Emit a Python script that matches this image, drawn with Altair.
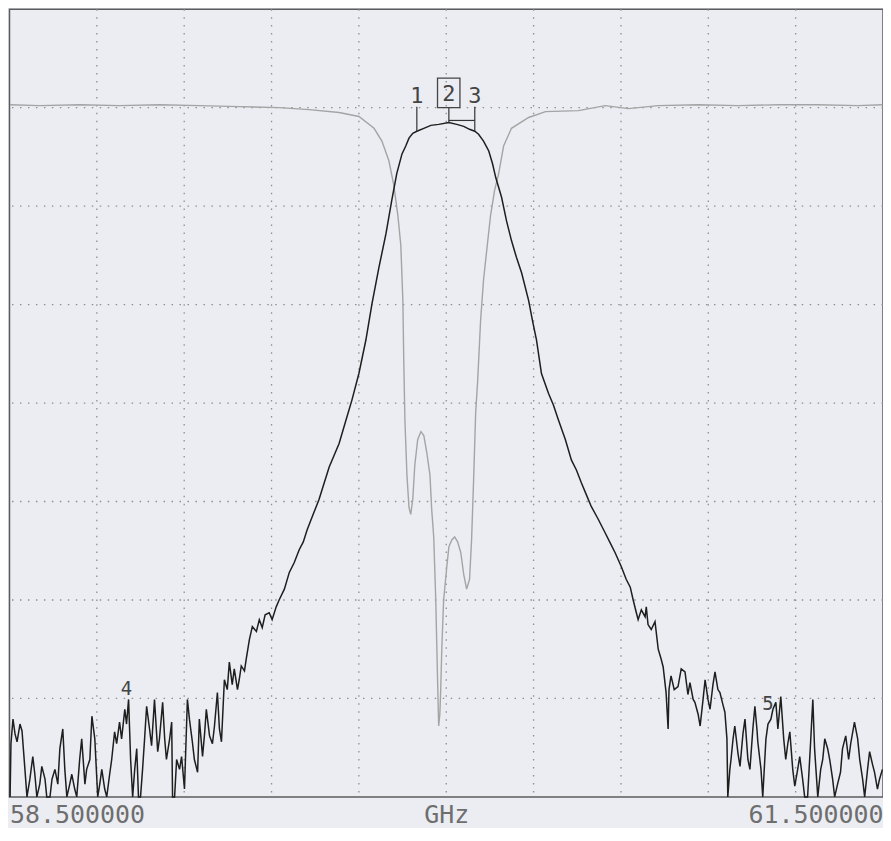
import altair as alt
import pandas as pd

# ---------------- data (GHz, dB) ----------------
# S21 transmission trace (black), left stop-band noise
s21_freq_a = [58.502,58.505,58.512,58.519,58.526,58.536,58.543,58.553,58.560,58.570,
              58.580,58.587,58.594,58.604,58.611,58.622,58.628,58.639,58.646,58.656,
              58.666,58.673,58.683,58.690,58.697,58.707,58.714,58.724,58.731,58.741,
              58.748,58.759,58.765,58.776,58.783,58.793,58.803,58.810,58.817,58.827,
              58.834,58.844,58.851,58.861,58.868,58.878,58.885,58.896,58.902,58.909,
              58.916,58.923,58.930,58.937,58.943,58.950,58.957,58.964,58.971,58.981,
              58.988,58.998,59.009,59.015,59.026,59.033,59.039,59.050,59.057,59.060,
              59.067,59.074,59.084,59.091,59.101,59.111,59.118,59.128,59.135,59.146,
              59.152,59.163,59.170,59.176,59.187,59.197,59.204,59.214,59.221,59.228,
              59.238,59.248,59.255,59.265,59.272,59.283,59.289,59.296,59.307,59.313]
s21_db_a = [-80,-74.6,-72.1,-73.6,-74.4,-72.6,-73.3,-77.2,-80,-78.2,
            -75.9,-77.7,-80,-78.7,-76.9,-78.2,-80,-80,-78.2,-77.2,
            -78.7,-75.1,-73.1,-77.2,-80,-78.7,-77.7,-79.2,-80,-76.2,
            -74.1,-78.7,-77.2,-76.2,-71.8,-74.1,-80,-78.7,-77.2,-79.2,
            -80,-77.7,-76.2,-73.4,-74.6,-72.4,-74.1,-71.1,-72.6,-70.1,
            -76.2,-80,-77.2,-75.1,-80,-80,-77.2,-74.1,-70.8,-73.1,
            -74.8,-70.1,-75.4,-74.1,-70.4,-74.1,-76.2,-74.1,-72.4,-80,
            -80,-76.2,-77.2,-75.9,-79.2,-70.1,-72.1,-74.4,-76.2,-77.5,
            -72.1,-75.9,-73.6,-71.1,-73.8,-74.6,-72.8,-69.4,-73.1,-74.4,
            -68.1,-69.1,-66.3,-68.6,-67.0,-69.1,-68.1,-66.7,-67.2,-66.0]

# S21 skirts and pass band
s21_freq_b = [59.324,59.334,59.348,59.358,59.368,59.378,59.392,59.402,59.416,59.426,
              59.444,59.461,59.478,59.495,59.509,59.522,59.543,59.563,59.581,59.598,
              59.615,59.632,59.656,59.676,59.700,59.724,59.745,59.769,59.793,59.813,
              59.830,59.848,59.861,59.872,59.885,59.899,59.923,59.947,59.974,60.009,
              60.036,60.060,60.080,60.098,60.111,60.128,60.139,60.146,60.159,60.170,
              60.190,60.207,60.224,60.241,60.259,60.283,60.296,60.310,60.327,60.351,
              60.368,60.385,60.409,60.430,60.447,60.464,60.481,60.498,60.522,60.546,
              60.563,60.580,60.601,60.618,60.632,60.642,60.652,60.659,60.670,60.683,
              60.687,60.693,60.704,60.717,60.728,60.738,60.745]
s21_db_b = [-64.0,-62.7,-63.2,-62.0,-62.8,-61.5,-61.3,-62.0,-60.7,-60.0,
            -58.9,-57.2,-56.2,-54.9,-54.1,-52.9,-51.3,-49.8,-48.1,-46.5,
            -45.3,-44.1,-41.7,-39.7,-37.0,-33.6,-29.9,-26.2,-22.8,-19.4,
            -16.7,-14.7,-13.9,-13.1,-12.6,-12.4,-12.1,-11.8,-11.7,-11.5,
            -11.7,-11.9,-12.2,-12.4,-12.7,-13.4,-14.0,-14.4,-15.7,-17.1,
            -19.1,-21.5,-23.5,-25.2,-26.8,-29.6,-31.6,-33.6,-37.0,-39.0,
            -40.2,-41.7,-43.7,-45.8,-46.8,-48.1,-49.3,-50.5,-51.8,-53.2,
            -54.2,-55.2,-56.6,-57.9,-58.7,-60.0,-61.2,-62.0,-61.0,-61.7,
            -60.7,-62.5,-63.0,-62.2,-65.0,-66.0,-66.8]

# S21 right stop-band noise
s21_freq_c = [60.755,60.762,60.765,60.772,60.783,60.796,60.807,60.820,60.830,60.837,
              60.848,60.854,60.865,60.872,60.882,60.889,60.899,60.906,60.916,60.923,
              60.933,60.940,60.950,60.957,60.964,60.967,60.974,60.978,60.985,60.991,
              61.002,61.009,61.019,61.026,61.036,61.043,61.053,61.060,61.067,61.070,
              61.081,61.087,61.094,61.098,61.105,61.115,61.122,61.132,61.139,61.149,
              61.159,61.166,61.173,61.180,61.190,61.197,61.207,61.214,61.224,61.231,
              61.241,61.252,61.259,61.265,61.276,61.286,61.293,61.300,61.310,61.317,
              61.327,61.334,61.344,61.354,61.361,61.372,61.382,61.389,61.402,61.413,
              61.420,61.430,61.437,61.447,61.454,61.464,61.471,61.481,61.488,61.498]
s21_db_c = [-69.4,-73.1,-69.1,-67.7,-69.1,-68.8,-67.0,-67.3,-69.6,-68.4,
            -70.1,-70.4,-71.6,-72.8,-70.1,-68.1,-70.1,-71.1,-68.6,-67.3,
            -69.1,-69.4,-70.6,-71.4,-74.1,-80,-77.2,-76.2,-74.1,-72.8,
            -75.6,-76.9,-73.6,-72.1,-76.2,-77.2,-73.1,-70.8,-73.1,-74.4,
            -77.2,-80,-76.2,-74.1,-72.6,-72.1,-71.1,-70.4,-73.1,-69.8,
            -74.1,-76.2,-74.6,-73.4,-77.2,-78.9,-77.2,-75.9,-78.2,-80,
            -80,-74.1,-70.1,-75.1,-80,-77.2,-76.2,-74.1,-75.1,-76.2,
            -78.2,-80,-78.7,-77.5,-75.1,-73.8,-76.2,-74.6,-72.4,-74.1,
            -76.2,-78.2,-80,-77.2,-75.4,-76.7,-77.5,-79.2,-78.2,-77.2]

# S11 reflection trace (grey)
s11_freq = [58.502,58.604,58.741,58.878,59.015,59.152,59.289,59.426,59.529,59.632,
            59.700,59.752,59.779,59.803,59.820,59.834,59.844,59.851,59.854,59.858,
            59.865,59.872,59.878,59.885,59.892,59.902,59.913,59.923,59.933,59.944,
            59.950,59.957,59.964,59.967,59.971,59.974,59.978,59.981,59.985,59.991,
            60.002,60.009,60.019,60.029,60.039,60.050,60.060,60.070,60.080,60.087,
            60.094,60.101,60.108,60.118,60.128,60.139,60.152,60.166,60.180,60.197,
            60.224,60.283,60.341,60.454,60.546,60.625,60.728,60.865,61.002,61.139,
            61.276,61.413,61.498]
s11_db = [-9.7,-9.8,-9.7,-9.8,-9.7,-9.8,-9.9,-10.0,-10.2,-10.5,
          -10.9,-12.1,-13.4,-15.4,-17.9,-21.0,-24.0,-29.6,-35.6,-41.7,
          -47.3,-50.6,-51.3,-49.8,-46.3,-43.7,-42.9,-43.3,-45.0,-47.3,
          -50.8,-53.6,-60.0,-64.0,-69.1,-72.8,-71.6,-69.1,-64.7,-60.0,
          -56.6,-54.6,-53.9,-53.6,-54.1,-55.2,-57.4,-58.9,-57.9,-53.9,
          -47.8,-41.0,-37.7,-31.6,-27.5,-24.5,-21.0,-18.4,-16.7,-13.9,
          -12.1,-11.0,-10.4,-10.3,-9.8,-10.1,-9.8,-9.7,-9.8,-9.7,
          -9.7,-9.8,-9.7]

# grid and axis
grid_freqs = [58.8, 59.1, 59.4, 59.7, 60.0, 60.3, 60.6, 60.9, 61.2]
grid_dbs = [-10, -20, -30, -40, -50, -60, -70]
tick_freqs = [58.5, 60.0, 61.5]

# markers
marker_labels = ["1", "2", "3", "4", "5"]
marker_freqs = [59.899, 60.009, 60.098, 58.902, 61.105]
marker_trace_db = [-12.4, -11.5, -12.4, -70.1, -72.6]
marker_top_db = [-9.9, -10.0, -9.9, None, None]
marker_text_db = [-8.8, -8.6, -8.8, -69.0, -70.6]

# ---------------- chart ----------------
X_DOM = [58.5, 61.5]
Y_DOM = [-80, 0]
xs = alt.Scale(domain=X_DOM, nice=False, zero=False)
ys = alt.Scale(domain=Y_DOM, nice=False, zero=False)

xaxis = alt.Axis(values=tick_freqs, title=None, grid=False, ticks=False, domain=False,
                 labelFlush=True, labelOverlap=False,
                 labelExpr="datum.value == 60 ? 'GHz' : format(datum.value, '.6f')",
                 labelFont="DejaVu Sans Mono", labelFontSize=25, labelColor="#6e6e6e",
                 labelPadding=6)

def X(field):
    return alt.X(field, type="quantitative", scale=xs, axis=xaxis)

def Y(field):
    return alt.Y(field, type="quantitative", scale=ys, axis=None)

s21 = pd.DataFrame({"f": s21_freq_a + s21_freq_b + s21_freq_c,
                    "db": s21_db_a + s21_db_b + s21_db_c})
s21["i"] = range(len(s21))
s11 = pd.DataFrame({"f": s11_freq, "db": s11_db})
s11["i"] = range(len(s11))

grid_style = dict(color="#8f8f8f", strokeWidth=1.3, strokeDash=[1.5, 6.5])
vgrid = alt.Chart(pd.DataFrame({"f": grid_freqs})).mark_rule(**grid_style).encode(x=X("f"))
hgrid = alt.Chart(pd.DataFrame({"db": grid_dbs})).mark_rule(**grid_style).encode(y=Y("db"))

s11_line = alt.Chart(s11).mark_line(color="#a4a4a4", strokeWidth=1.4).encode(
    x=X("f"), y=Y("db"), order="i:Q")
s21_line = alt.Chart(s21).mark_line(color="#1e1e1e", strokeWidth=1.5).encode(
    x=X("f"), y=Y("db"), order="i:Q")

mk = pd.DataFrame({"label": marker_labels, "f": marker_freqs, "db": marker_trace_db,
                   "top": marker_top_db, "ty": marker_text_db})
mk_main = mk.iloc[:3]
mk_rules = alt.Chart(mk_main).mark_rule(color="#333", strokeWidth=1.2).encode(
    x=X("f"), y=Y("top"), y2="db")
bracket = alt.Chart(pd.DataFrame({"f": [marker_freqs[1]], "f2": [marker_freqs[2]],
                                  "db": [-11.3]})).mark_rule(color="#333", strokeWidth=1.2).encode(
    x=X("f"), x2="f2", y=Y("db"))
box = alt.Chart(pd.DataFrame({"f": [59.970], "f2": [60.047], "db": [-7.0], "db2": [-10.0]})
                ).mark_rect(fill=None, stroke="#444", strokeWidth=1.3).encode(
    x=X("f"), x2="f2", y=Y("db"), y2="db2")
mk_text_big = alt.Chart(mk_main).mark_text(font="DejaVu Sans Mono", fontSize=22, color="#444",
                                           baseline="middle", align="center").encode(
    x=X("f"), y=Y("ty"), text="label:N")
mk_text_small = alt.Chart(mk.iloc[3:]).mark_text(font="DejaVu Sans Mono", fontSize=19, color="#444",
                                                 baseline="middle", align="center").encode(
    x=X("f"), y=Y("ty"), text="label:N")

chart = alt.layer(vgrid, hgrid, s11_line, s21_line, mk_rules, bracket, box,
                  mk_text_big, mk_text_small).properties(
    width=876, height=790,
    padding={"left": 1.5, "top": 0, "right": 0, "bottom": 30},
    autosize=alt.AutoSizeParams(type="none"),
    background="#ebedf2",
).configure_view(stroke="#5c5c5c", strokeWidth=1.5)

chart.save("out.html", embed_options={"renderer": "svg", "actions": False})
